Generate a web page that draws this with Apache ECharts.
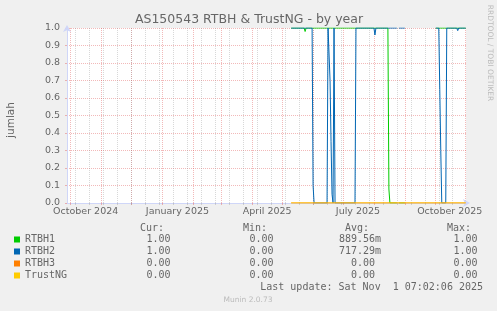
<!DOCTYPE html>
<html><head><meta charset="utf-8">
<script src="https://cdn.jsdelivr.net/npm/echarts@6/dist/echarts.min.js"></script>
<style>html,body{margin:0;padding:0;background:#F0F0F0;}#c{width:497px;height:311px;}</style>
</head><body><div id="c"></div>
<script>
// ---- data ----
const seriesNames = ['RTBH1', 'RTBH2', 'RTBH3', 'TrustNG'];
const seriesColors = ['#00CC00', '#0066B3', '#FF8000', '#FFCC00'];
const rtbh1 = [
  ['2025-05-10', 1], ['2025-05-23', 1], ['2025-05-24', 0.98], ['2025-05-25', 1],
  ['2025-08-15', 1], ['2025-08-16', 0.08], ['2025-08-17', 0], ['2025-08-24', 0],
  ['2025-08-25', null], ['2025-08-26', 0], ['2025-09-01', 0], ['2025-09-02', null],
  ['2025-10-02', 1], ['2025-11-01', 1]
];
const rtbh2 = [
  ['2025-05-10', 1], ['2025-05-31', 1], ['2025-06-01', 0.1], ['2025-06-02', 0],
  ['2025-06-15', 0], ['2025-06-16', 1], ['2025-06-17', 1], ['2025-06-18', 0.7],
  ['2025-06-19', 0.35], ['2025-06-20', 0.05], ['2025-06-21', 0], ['2025-06-22', 1],
  ['2025-06-23', 0], ['2025-07-13', 0], ['2025-07-14', 1],
  ['2025-08-01', 1], ['2025-08-02', 0.96], ['2025-08-03', 1],
  ['2025-08-24', 1], ['2025-08-25', null], ['2025-08-26', 1], ['2025-09-01', 1], ['2025-09-02', null],
  ['2025-10-02', 1], ['2025-10-05', 1], ['2025-10-06', 0.65], ['2025-10-07', 0.3],
  ['2025-10-08', 0], ['2025-10-12', 0],
  ['2025-10-13', 1], ['2025-10-23', 1], ['2025-10-24', 0.985], ['2025-10-25', 1], ['2025-11-01', 1]
];
const rtbh3 = [['2025-05-10', 0], ['2025-11-01', 0]];
const trustng = [['2025-05-10', 0], ['2025-11-01', 0]];
const seriesData = [rtbh1, rtbh2, rtbh3, trustng];

const curVals = ['1.00', '1.00', '0.00', '0.00'];
const minVals = ['0.00', '0.00', '0.00', '0.00'];
const avgVals = ['889.56m', '717.29m', '  0.00', '  0.00'];
const maxVals = ['1.00', '1.00', '0.00', '0.00'];

const timeMin = '2024-09-27 07:00';
const timeMax = '2025-11-01 07:00';
const labelDates = ['2024-10-16', '2025-01-16', '2025-04-16', '2025-07-16', '2025-10-16'];
const labelTexts = ['October 2024', 'January 2025', 'April 2025', 'July 2025', 'October 2025'];
const monthDates = ['2024-10-01', '2024-11-01', '2024-12-01', '2025-01-01', '2025-02-01', '2025-03-01',
  '2025-04-01', '2025-05-01', '2025-06-01', '2025-07-01', '2025-08-01', '2025-09-01', '2025-10-01', '2025-11-01'];
const minorStart = '2024-10-06';

const title = 'AS150543 RTBH & TrustNG - by year';
const yName = 'jumlah';
const lastUpdate = 'Last update: Sat Nov  1 07:02:06 2025';
const footer = 'Munin 2.0.73';
const sideText = 'RRDTOOL / TOBI OETIKER';

// ---- chart ----
const P = s => echarts.time.parse(s).getTime();
const tMin = P(timeMin), tMax = P(timeMax);
const minorDates = [];
for (let t = P(minorStart); t < tMax; t += 14 * 86400000) minorDates.push(t);
const labelTs = labelDates.map(P);
const monthTs = monthDates.map(P);

const FONT = 'DejaVu Sans';
const MONO = 'DejaVu Sans Mono';
const TXT = '#666666';
const AXIS = '#CFD6F8';
const MGRID = 'rgba(222,79,79,0.4)';
const GRID = 'rgba(143,143,143,0.35)';

const chart = echarts.init(document.getElementById('c'), null, {renderer: 'canvas'});

const graphics = [
  {type: 'text', x: 249, y: 20, style: {text: title, font: '12.5px ' + FONT, fill: TXT, textAlign: 'center', textVerticalAlign: 'middle'}},
  {type: 'text', x: 11, y: 120, rotation: Math.PI / 2, style: {text: yName, font: '10.5px ' + FONT, fill: TXT, textAlign: 'center', textVerticalAlign: 'middle'}},
  {type: 'text', x: 490, y: 53, rotation: -Math.PI / 2, style: {text: sideText, font: '7.5px ' + FONT, fill: '#BBBBBB', textAlign: 'center', textVerticalAlign: 'middle'}},
  {type: 'text', x: 140, y: 228.5, style: {text: 'Cur:', font: '10px ' + MONO, fill: TXT, textVerticalAlign: 'middle'}},
  {type: 'text', x: 243, y: 228.5, style: {text: 'Min:', font: '10px ' + MONO, fill: TXT, textVerticalAlign: 'middle'}},
  {type: 'text', x: 345, y: 228.5, style: {text: 'Avg:', font: '10px ' + MONO, fill: TXT, textVerticalAlign: 'middle'}},
  {type: 'text', x: 447, y: 228.5, style: {text: 'Max:', font: '10px ' + MONO, fill: TXT, textVerticalAlign: 'middle'}},
  {type: 'text', x: 483, y: 287, style: {text: lastUpdate, font: '10px ' + MONO, fill: TXT, textAlign: 'right', textVerticalAlign: 'middle'}},
  {type: 'text', x: 248, y: 300, style: {text: footer, font: '7.5px ' + FONT, fill: '#BBBBBB', textAlign: 'center', textVerticalAlign: 'middle'}}
];
const cols = [[146.5, curVals], [249.5, minVals], [339, avgVals], [453.5, maxVals]];
cols.forEach(([x, vals]) => vals.forEach((v, i) => graphics.push(
  {type: 'text', x: x, y: 239.5 + i * 12, style: {text: v, font: '10px ' + MONO, fill: TXT, textVerticalAlign: 'middle'}}
)));

const option = {
  animation: false,
  backgroundColor: '#F0F0F0',
  grid: {left: 67, top: 28, width: 399, height: 175, show: true, backgroundColor: '#FFFFFF', borderWidth: 0},
  legend: {
    data: seriesNames, orient: 'vertical', left: 14, top: 233.5, padding: 0,
    icon: 'rect', itemWidth: 6, itemHeight: 6, itemGap: 0,
    textStyle: {fontFamily: MONO, fontSize: 10, color: TXT, lineHeight: 12}
  },
  xAxis: [{
    type: 'value', min: tMin, max: tMax,
    axisLine: {show: true, onZero: false, lineStyle: {color: AXIS, width: 1}, symbol: ['none', 'arrow'], symbolSize: [6, 7], symbolOffset: [0, 4]},
    axisTick: {show: true, length: 2, customValues: monthTs, lineStyle: {color: MGRID}},
    axisLabel: {show: true, customValues: labelTs, margin: 4, color: TXT, fontFamily: FONT, fontSize: 9.5,
      formatter: v => { const i = labelTs.indexOf(v); return i >= 0 ? labelTexts[i] : ''; }},
    splitLine: {show: true, lineStyle: {color: MGRID, type: 'dotted', width: 1}}
  }, {
    type: 'value', min: tMin, max: tMax, position: 'bottom',
    axisLine: {show: false, onZero: false},
    axisTick: {show: true, length: 2, customValues: minorDates, lineStyle: {color: GRID}},
    axisLabel: {show: false},
    splitLine: {show: true, lineStyle: {color: GRID, type: 'dotted', width: 1}}
  }],
  yAxis: {
    type: 'value', min: 0, max: 1, interval: 0.1,
    axisLine: {show: true, lineStyle: {color: AXIS, width: 1}, symbol: ['none', 'arrow'], symbolSize: [6, 7], symbolOffset: [0, 3]},
    axisTick: {show: true, length: 2, lineStyle: {color: MGRID}},
    axisLabel: {margin: 7, color: TXT, fontFamily: FONT, fontSize: 9.5, formatter: v => v.toFixed(1)},
    splitLine: {show: true, lineStyle: {color: MGRID, type: 'dotted', width: 1}}
  },
  series: seriesNames.map((n, i) => ({
    name: n, type: 'line', xAxisIndex: 0,
    data: seriesData[i].map(([d, v]) => [P(d), v]),
    showSymbol: false, symbol: 'none',
    connectNulls: false, color: seriesColors[i], lineStyle: {width: 1, color: seriesColors[i]}, z: 2 + i
  })),
  graphic: graphics
};
chart.setOption(option);
</script></body></html>
